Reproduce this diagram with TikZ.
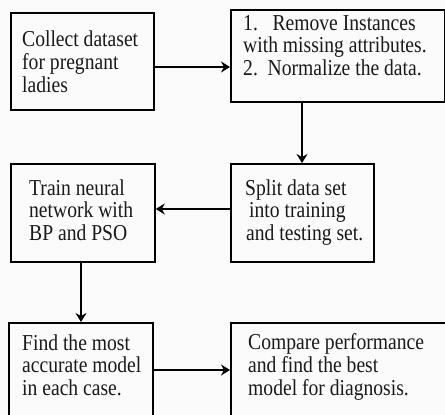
\documentclass[tikz,border=0pt]{standalone}
\usepackage{fontspec}
\setmainfont{Liberation Serif}
\usetikzlibrary{arrows.meta}
\newcommand{\tallstack}[1]{\scalebox{1}[1.16]{\begin{tabular}[b]{@{}l@{}}#1\end{tabular}}}
\begin{document}
\begin{tikzpicture}[x=1pt,y=-1pt,
  box/.style={draw=black,line width=1.8pt,rectangle,inner sep=0pt,anchor=north west},
  txt/.style={anchor=base west,inner sep=0pt,font=\fontsize{19.6}{19}\selectfont,text=black!90},
  arr/.style={line width=2.7pt,-{Stealth[length=9pt,width=11pt,inset=3pt]}}]
\useasboundingbox (0,0) rectangle (445,415);
\fill[white!97!gray] (0,0) rectangle (445,415);
\begin{scope}
\clip (0,0) rectangle (445,415);
\node[box,minimum width=143pt,minimum height=97pt] (b1) at (10,12) {};
\node[box,minimum width=214pt,minimum height=92pt] (b2) at (230,9) {};
\node[box,minimum width=144pt,minimum height=98pt] (b3) at (10,163) {};
\node[box,minimum width=143pt,minimum height=98pt] (b4) at (230,163) {};
\node[box,minimum width=144pt,minimum height=110pt] (b5) at (8,322) {};
\node[box,minimum width=230pt,minimum height=110pt] (b6) at (230,322) {};
\end{scope}
\node[txt] (t1) at (22,92) {\tallstack{Collect dataset\\for pregnant\\ladies}};
\node[txt] (t2) at (243,75) {\tallstack{1.\ \ \ Remove Instances\\with missing attributes.\\2.\ \ Normalize the data.}};
\node[txt] (t3) at (29,240) {\tallstack{Train neural\\network with\\BP and PSO}};
\node[txt] (t4) at (245,240) {\tallstack{Split data set\\\hspace{4pt}into training\\\hspace{1pt}and testing set.}};
\node[txt] (t5) at (22,395) {\tallstack{Find the most\\accurate model\\in each case.}};
\node[txt] (t6) at (248,395) {\tallstack{Compare performance\\and find the best\\model for diagnosis.}};
\coordinate (y1) at (0,67);
\coordinate (x2) at (302,0);
\coordinate (y3) at (0,209);
\coordinate (x4) at (81,0);
\coordinate (y5) at (0,370);
\draw[arr] (b1.east |- y1) -- (b2.west |- y1);
\draw[arr] (b2.south -| x2) -- (b4.north -| x2);
\draw[arr] (b4.west |- y3) -- (b3.east |- y3);
\draw[arr] (b3.south -| x4) -- (b5.north -| x4);
\draw[arr] (b5.east |- y5) -- (b6.west |- y5);
\end{tikzpicture}
\end{document}
